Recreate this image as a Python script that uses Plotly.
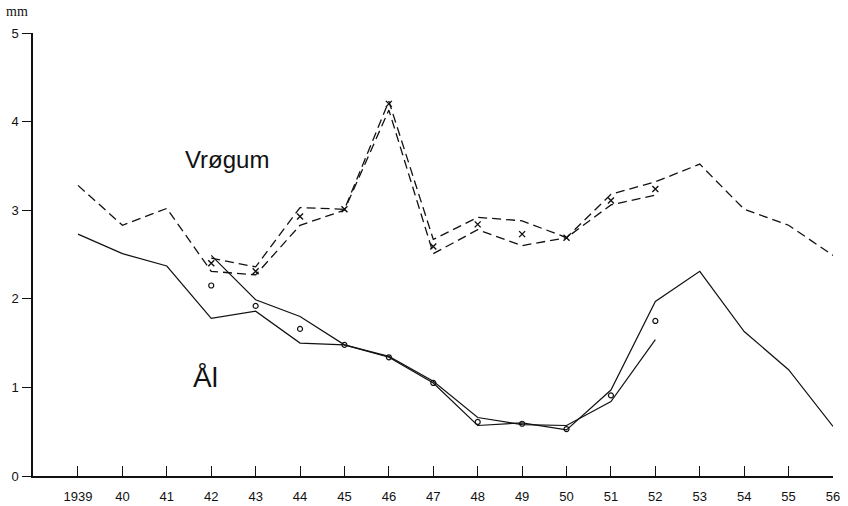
import plotly.graph_objects as go

# Years on the horizontal axis
years = list(range(1939, 1957))
year_labels = ["1939"] + [str(y)[2:] for y in range(1940, 1957)]
inner_years = list(range(1942, 1953))

# Vrøgum (dashed): long series and the parallel 1942-52 series, with crosses
vrogum_long = [3.28, 2.83, 3.02, 2.31, 2.27, 2.83, 3.00, 4.13, 2.51,
               2.78, 2.60, 2.69, 3.18, 3.32, 3.52, 3.01, 2.83, 2.49]
vrogum_short = [2.46, 2.36, 3.03, 3.01, 4.23, 2.67, 2.92, 2.88, 2.69, 3.06, 3.17]
vrogum_marks = [2.40, 2.31, 2.93, 3.01, 4.20, 2.59, 2.84, 2.73, 2.69, 3.11, 3.24]

# Ål (solid): long series and the parallel 1942-52 series, with circles
al_long = [2.73, 2.51, 2.37, 1.78, 1.86, 1.50, 1.48, 1.34, 1.05,
           0.57, 0.60, 0.52, 0.97, 1.97, 2.31, 1.63, 1.20, 0.56]
al_short = [2.49, 1.99, 1.80, 1.48, 1.35, 1.07, 0.66, 0.58, 0.57, 0.84, 1.54]
al_marks = [2.15, 1.92, 1.66, 1.48, 1.34, 1.05, 0.61, 0.59, 0.53, 0.91, 1.75]

y_ticks = [0, 1, 2, 3, 4, 5]

INK = "#111111"
DASH = "9px,5px"

fig = go.Figure()

fig.add_trace(go.Scatter(x=years, y=vrogum_long, mode="lines",
                         line=dict(color=INK, width=1.3, dash=DASH)))
fig.add_trace(go.Scatter(x=inner_years, y=vrogum_short, mode="lines",
                         line=dict(color=INK, width=1.3, dash=DASH)))
fig.add_trace(go.Scatter(x=inner_years, y=vrogum_marks, mode="markers",
                         marker=dict(symbol="x-thin", size=6, color=INK,
                                     line=dict(color=INK, width=1.4))))

fig.add_trace(go.Scatter(x=years, y=al_long, mode="lines",
                         line=dict(color=INK, width=1.2)))
fig.add_trace(go.Scatter(x=inner_years, y=al_short, mode="lines",
                         line=dict(color=INK, width=1.2)))
fig.add_trace(go.Scatter(x=inner_years, y=al_marks, mode="markers",
                         marker=dict(symbol="circle-open", size=5, color=INK,
                                     line=dict(color=INK, width=1.2))))

tick_font = dict(family="Liberation Sans, DejaVu Sans, sans-serif", size=13, color=INK)

fig.update_layout(
    width=848, height=506,
    margin=dict(l=33, r=15, t=33, b=30),
    paper_bgcolor="white", plot_bgcolor="white",
    showlegend=False,
    xaxis=dict(
        range=[1937.987, 1956.0],
        tickmode="array", tickvals=years, ticktext=year_labels,
        ticks="inside", ticklen=10, tickwidth=1.2, tickcolor=INK,
        showline=True, linecolor=INK, linewidth=1.5,
        showgrid=False, zeroline=False, automargin=False,
        tickfont=tick_font, ticklabelstandoff=8,
    ),
    yaxis=dict(
        range=[0, 5],
        tickmode="array", tickvals=y_ticks, ticktext=[str(v) for v in y_ticks],
        ticks="outside", ticklen=9, tickwidth=1.3, tickcolor=INK,
        showline=True, linecolor=INK, linewidth=1.5,
        showgrid=False, zeroline=False, automargin=False,
        tickfont=tick_font, ticklabelstandoff=1,
    ),
)

label_font = "Liberation Sans, DejaVu Sans, sans-serif"
fig.add_annotation(x=1942.35, y=3.57, xref="x", yref="y", text="Vrøgum",
                   showarrow=False, font=dict(family=label_font, size=24, color=INK))
fig.add_annotation(x=1941.88, y=1.11, xref="x", yref="y", text="Ål",
                   showarrow=False, font=dict(family=label_font, size=28, color=INK))
fig.add_annotation(x=0.0, y=1.0, xref="paper", yref="paper", text="mm",
                   xanchor="left", yanchor="bottom", xshift=-29, yshift=12,
                   showarrow=False,
                   font=dict(family="Liberation Serif, DejaVu Serif, serif", size=14, color=INK))

fig.write_html("out.html")
